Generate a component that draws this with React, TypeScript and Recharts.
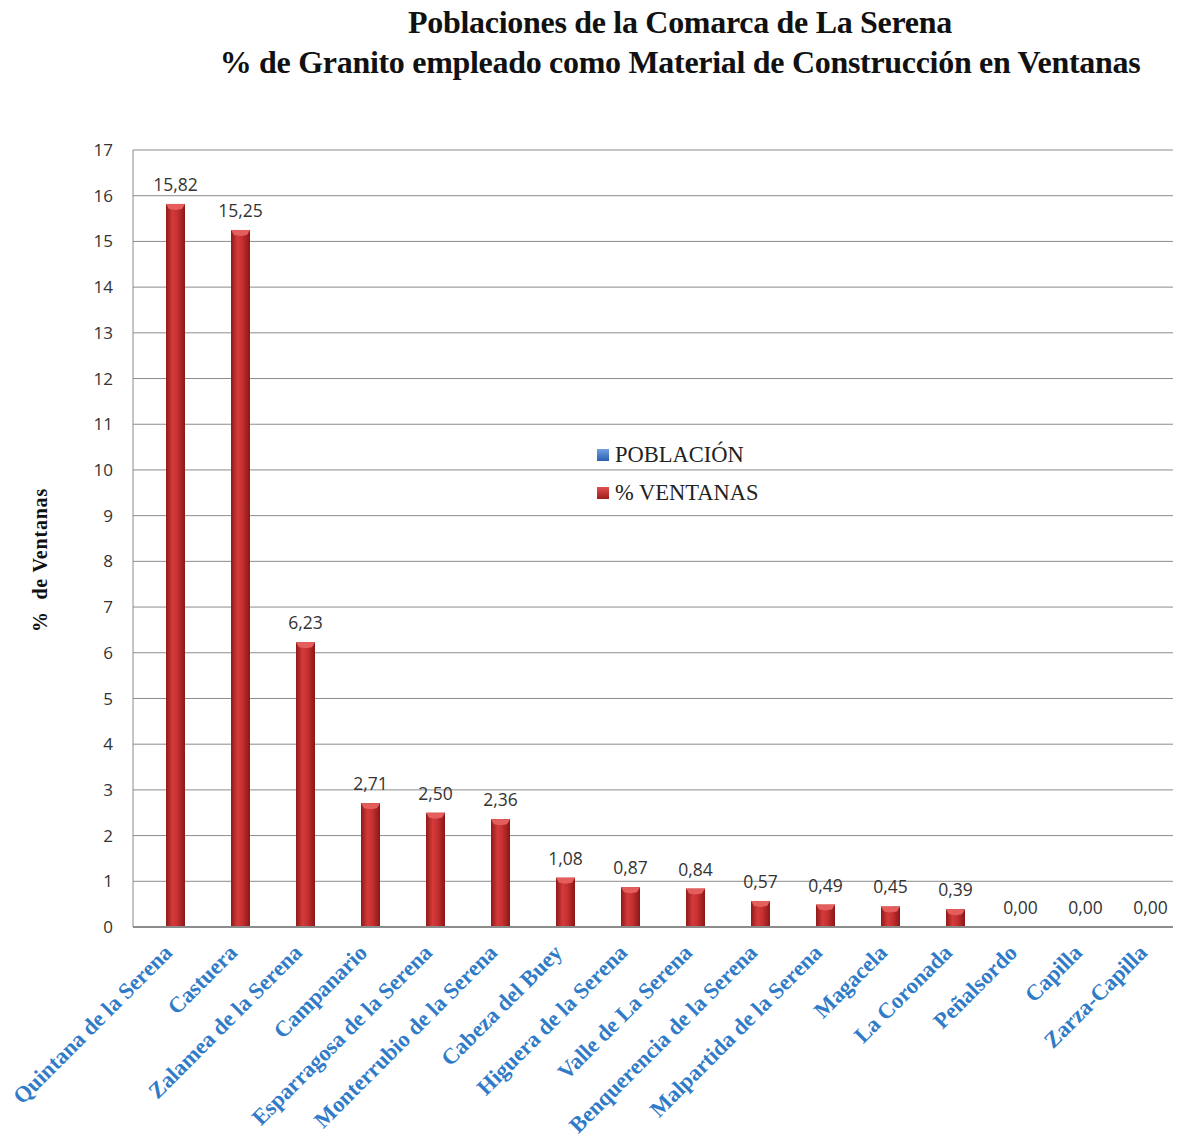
import React from "react";
import { BarChart, Bar, XAxis, YAxis, CartesianGrid, LabelList } from "recharts";

const categories = [
  "Quintana de la Serena",
  "Castuera",
  "Zalamea de la Serena",
  "Campanario",
  "Esparragosa de la Serena",
  "Monterrubio de la Serena",
  "Cabeza del Buey",
  "Higuera de la Serena",
  "Valle de La Serena",
  "Benquerencia de la Serena",
  "Malpartida de la Serena",
  "Magacela",
  "La Coronada",
  "Peñalsordo",
  "Capilla",
  "Zarza-Capilla",
];
const ventanas = [15.82, 15.25, 6.23, 2.71, 2.5, 2.36, 1.08, 0.87, 0.84, 0.57, 0.49, 0.45, 0.39, 0, 0, 0];
const poblacion = [0, 0, 0, 0, 0, 0, 0, 0, 0, 0, 0, 0, 0, 0, 0, 0];
const yTicks = [0, 1, 2, 3, 4, 5, 6, 7, 8, 9, 10, 11, 12, 13, 14, 15, 16, 17];
const titleLines = [
  "Poblaciones de la Comarca de La Serena",
  "% de Granito empleado como Material de Construcción en Ventanas",
];

const data = categories.map((name, i) => ({
  name,
  poblacion: poblacion[i],
  ventanas: ventanas[i],
}));

const SERIF = "'Liberation Serif', 'DejaVu Serif', serif";
const SANS = "'Open Sans', 'Noto Sans', sans-serif";

const RedBar = (props: any) => {
  const { x, y, width, height } = props;
  if (!height || height <= 0) return null;
  const cap = Math.min(5, height);
  return (
    <g>
      <rect x={x} y={y} width={width} height={height} fill="url(#redGrad)" />
      <polygon
        points={`${x},${y} ${x + width},${y} ${x + width - 3},${y + cap} ${x + width / 2},${y + cap + 1} ${x + 3},${y + cap}`}
        fill="#e45e5e"
      />
    </g>
  );
};

const XTick = (props: any) => {
  const { x, y, payload } = props;
  return (
    <g transform={`translate(${x + 8},${y + 19})`}>
      <text
        transform="rotate(-45)"
        textAnchor="end"
        fill="#2f7bc8"
        fontFamily={SERIF}
        fontWeight="bold"
        fontSize={22.5}
      >
        {payload.value}
      </text>
    </g>
  );
};

const fmt = (v: any) => Number(v).toFixed(2).replace(".", ",");

export default function App() {
  return (
    <div style={{ position: "absolute", left: 0, top: 0, width: 1177, height: 1142, background: "#fff" }}>
      {titleLines.map((t, i) => (
        <div
          key={i}
          style={{
            position: "absolute",
            left: 180,
            width: 1000,
            top: i === 0 ? 4 : 44,
            textAlign: "center",
            fontFamily: SERIF,
            fontWeight: "bold",
            fontSize: 32,
            letterSpacing: -0.3,
            color: "#111",
            whiteSpace: "nowrap",
          }}
        >
          {t}
        </div>
      ))}
      <div
        style={{
          position: "absolute",
          left: 40,
          top: 560,
          transform: "translate(-50%, -50%) rotate(-90deg)",
          fontFamily: SERIF,
          fontWeight: "bold",
          fontSize: 20,
          letterSpacing: 0.8,
          color: "#111",
          whiteSpace: "pre",
        }}
      >
        {"%  de Ventanas"}
      </div>
      <div style={{ position: "absolute", left: 597, top: 442, fontFamily: SERIF, fontSize: 22.5, color: "#222" }}>
        <div style={{ display: "flex", alignItems: "center", height: 26 }}>
          <span style={{ display: "inline-block", width: 12, height: 12, background: "linear-gradient(#6fa0e0, #2a5fb0)", marginRight: 6 }} />
          POBLACIÓN
        </div>
        <div style={{ display: "flex", alignItems: "center", height: 26, marginTop: 12 }}>
          <span style={{ display: "inline-block", width: 12, height: 12, background: "linear-gradient(#e05050, #a01c1c)", marginRight: 6 }} />
          % VENTANAS
        </div>
      </div>
      <BarChart
        width={1177}
        height={1142}
        data={data}
        margin={{ top: 150, right: 4, left: 73, bottom: 0 }}
        barGap={0}
        barCategoryGap={0}
        style={{ position: "absolute", left: 0, top: 0 }}
      >
        <defs>
          <linearGradient id="redGrad" x1="0" y1="0" x2="1" y2="0">
            <stop offset="0%" stopColor="#8e1a1a" />
            <stop offset="35%" stopColor="#d63a3a" />
            <stop offset="60%" stopColor="#c53030" />
            <stop offset="100%" stopColor="#8a1717" />
          </linearGradient>
        </defs>
        <CartesianGrid vertical={false} stroke="#8c8c8c" strokeWidth={1} />
        <XAxis
          dataKey="name"
          interval={0}
          tick={<XTick />}
          tickLine={false}
          axisLine={{ stroke: "#8c8c8c", strokeWidth: 2 }}
          height={215}
        />
        <YAxis
          domain={[0, 17]}
          ticks={yTicks}
          interval={0}
          width={60}
          tickLine={false}
          axisLine={{ stroke: "#8c8c8c" }}
          tick={{ fill: "#333", fontSize: 17, fontFamily: SANS }}
          tickMargin={14}
        />
        <Bar dataKey="poblacion" barSize={19} fill="#3c7ad4" isAnimationActive={false} />
        <Bar dataKey="ventanas" barSize={19} shape={<RedBar />} isAnimationActive={false}>
          <LabelList
            dataKey="ventanas"
            position="top"
            offset={13}
            formatter={fmt}
            style={{ fill: "#333", fontSize: 17.5, fontFamily: SANS }}
          />
        </Bar>
      </BarChart>
    </div>
  );
}
